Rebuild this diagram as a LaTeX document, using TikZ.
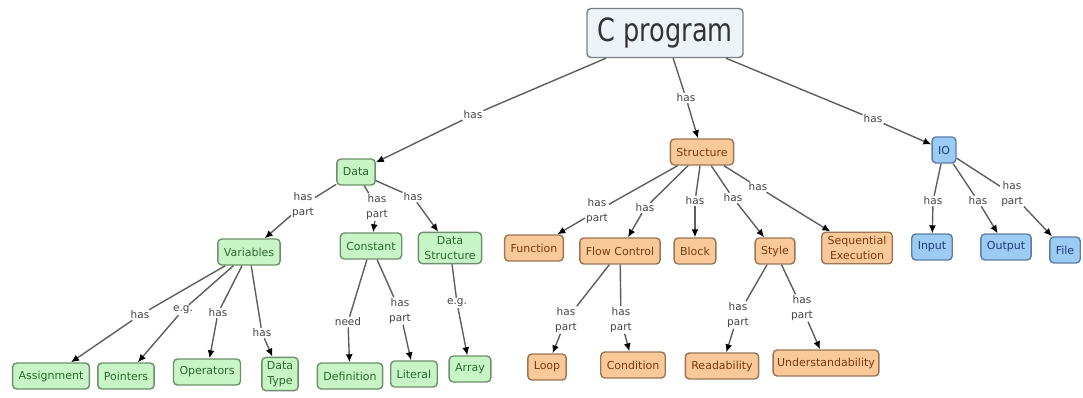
\documentclass[tikz,border=0pt]{standalone}
\usepackage{fontspec}
\setmainfont{DejaVu Sans}
\usetikzlibrary{arrows.meta}

\definecolor{rootfill}{HTML}{EEF3F8}
\definecolor{rootline}{HTML}{7A7F86}
\definecolor{roottext}{HTML}{333333}
\definecolor{greenfill}{HTML}{C8F5C6}
\definecolor{greenline}{HTML}{6E8F6C}
\definecolor{greentext}{HTML}{2C6A2C}
\definecolor{orangefill}{HTML}{FAC99A}
\definecolor{orangeline}{HTML}{9A7656}
\definecolor{orangetext}{HTML}{7A3A0C}
\definecolor{bluefill}{HTML}{9CCBF4}
\definecolor{blueline}{HTML}{5C7EA6}
\definecolor{bluetext}{HTML}{1E3D78}
\definecolor{linecol}{HTML}{5E5E5E}
\definecolor{lbltext}{HTML}{444444}

\tikzset{
  box/.style={draw, rounded corners=4pt, line width=1.4pt, inner xsep=6pt, inner ysep=4pt,
    minimum height=26pt, align=center, font=\fontsize{11}{15}\selectfont},
  rootbox/.style={box, fill=rootfill, draw=rootline, text=roottext, minimum width=156pt,
    minimum height=49pt, font=\fontsize{32}{34}\selectfont},
  databox/.style={box, fill=greenfill, draw=greenline, text=greentext},
  structbox/.style={box, fill=orangefill, draw=orangeline, text=orangetext},
  iobox/.style={box, fill=bluefill, draw=blueline, text=bluetext},
  lbl/.style={fill=white, inner sep=1pt, align=center, text=lbltext,
    font=\fontsize{10.5}{15}\selectfont},
  link/.style={draw=linecol, line width=1.4pt},
  arr/.style={link, -{Latex[length=8pt,width=7pt,color=black]}},
}
% a relation: source -- label -> target
\newcommand\conn[3]{\draw[link] (#1) -- (#2); \draw[arr] (#2) -- (#3);}

\begin{document}
\begin{tikzpicture}[x=1pt,y=-1pt]
\useasboundingbox[fill=white] (0,0) rectangle (1083,398);

% root
\node[rootbox] (cprog) at (665,33) {\scalebox{0.8}[1]{C program}};

% data branch
\node[databox] (data) at (356,172) {Data};
\node[databox] (vars) at (249,252) {Variables};
\node[databox] (const) at (371,246) {Constant};
\node[databox] (dstruct) at (450,248) {Data\\Structure};
\node[databox] (assign) at (51,376) {Assignment};
\node[databox] (pointers) at (126,376) {Pointers};
\node[databox] (operators) at (207,372) {Operators};
\node[databox, inner xsep=5pt] (dtype) at (280,374) {Data\\Type};
\node[databox] (defn) at (350,376) {Definition};
\node[databox] (literal) at (414,374) {Literal};
\node[databox] (array) at (470,369) {Array};

% structure branch
\node[structbox] (struct) at (702,152) {Structure};
\node[structbox] (function) at (534,248) {Function};
\node[structbox] (flow) at (620,251) {Flow Control};
\node[structbox] (block) at (695,251) {Block};
\node[structbox] (style) at (775,251) {Style};
\node[structbox] (seq) at (857,248) {Sequential\\Execution};
\node[structbox] (loop) at (547,367) {Loop};
\node[structbox] (cond) at (633,365) {Condition};
\node[structbox] (read) at (722,366) {Readability};
\node[structbox, inner xsep=4pt] (under) at (826,363) {Understandability};

% io branch
\node[iobox] (io) at (944,150) {IO};
\node[iobox] (input) at (932,247) {Input};
\node[iobox] (output) at (1006,247) {Output};
\node[iobox] (file) at (1065,250) {File};

% relation labels
\node[lbl] (l1) at (473,115) {has};
\node[lbl] (l2) at (686,98) {has};
\node[lbl] (l3) at (873,119) {has};
\node[lbl] (l4) at (303,205) {has\\part};
\node[lbl] (l5) at (377,207) {has\\part};
\node[lbl] (l6) at (413,197) {has};
\node[lbl] (l7) at (140,315) {has};
\node[lbl] (l8) at (183,310) {e.g.};
\node[lbl] (l9) at (218,313) {has};
\node[lbl] (l10) at (262,333) {has};
\node[lbl] (l11) at (348,322) {need};
\node[lbl] (l12) at (400,311) {has\\part};
\node[lbl] (l13) at (457,303) {e.g.};
\node[lbl] (l14) at (597,211) {has\\part};
\node[lbl] (l15) at (645,208) {has};
\node[lbl] (l16) at (695,201) {has};
\node[lbl] (l17) at (733,198) {has};
\node[lbl] (l18) at (758,187) {has};
\node[lbl] (l19) at (566,320) {has\\part};
\node[lbl] (l20) at (621,320) {has\\part};
\node[lbl] (l21) at (738,315) {has\\part};
\node[lbl] (l22) at (802,308) {has\\part};
\node[lbl] (l23) at (933,201) {has};
\node[lbl] (l24) at (978,201) {has};
\node[lbl] (l25) at (1012,194) {has\\part};

% relations
\conn{cprog}{l1}{data}
\conn{cprog}{l2}{struct}
\conn{cprog}{l3}{io}
\conn{data}{l4}{vars}
\conn{data}{l5}{const}
\conn{data}{l6}{dstruct}
\conn{vars}{l7}{assign}
\conn{vars}{l8}{pointers}
\conn{vars}{l9}{operators}
\conn{vars}{l10}{dtype}
\conn{const}{l11}{defn}
\conn{const}{l12}{literal}
\conn{dstruct}{l13}{array}
\conn{struct}{l14}{function}
\conn{struct}{l15}{flow}
\conn{struct}{l16}{block}
\conn{struct}{l17}{style}
\conn{struct}{l18}{seq}
\conn{flow}{l19}{loop}
\conn{flow}{l20}{cond}
\conn{style}{l21}{read}
\conn{style}{l22}{under}
\conn{io}{l23}{input}
\conn{io}{l24}{output}
\conn{io}{l25}{file}
\end{tikzpicture}
\end{document}
